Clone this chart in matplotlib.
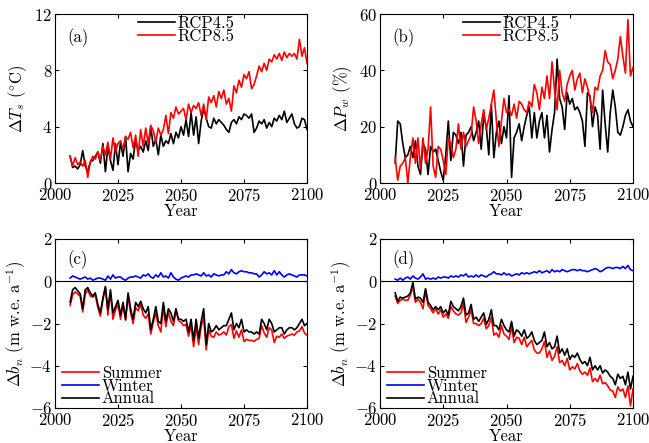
import matplotlib
matplotlib.use("Agg")
import matplotlib.pyplot as plt
import numpy as np

plt.rcParams['font.family'] = 'serif'
plt.rcParams['font.serif'] = ['cmr10', 'DejaVu Serif']
plt.rcParams['mathtext.fontset'] = 'cm'
plt.rcParams['axes.formatter.use_mathtext'] = True
plt.rcParams['font.size'] = 12

years = np.arange(2006, 2101)

# (a) air temperature change, degC
ts_rcp45 = [1.9, 1.1, 1.2, 1.0, 1.3, 2.3, 1.2, 0.8, 1.5, 1.6,
            1.9, 2.2, 1.4, 2.8, 0.8, 2.6, 1.6, 0.9, 2.8, 1.3,
            2.9, 1.9, 3.3, 0.8, 2.1, 1.7, 3.1, 2.3, 2.6, 2.2,
            3.0, 2.3, 4.0, 2.6, 3.1, 2.0, 3.4, 2.6, 3.0, 2.8,
            3.5, 2.8, 3.6, 3.2, 4.0, 3.4, 4.5, 3.3, 5.0, 3.4,
            4.7, 2.8, 4.4, 5.3, 4.6, 4.0, 3.9, 4.6, 4.2, 4.5,
            4.3, 4.1, 3.8, 3.6, 4.3, 4.5, 4.2, 4.7, 4.5, 4.9,
            4.8, 4.6, 4.9, 3.6, 3.9, 4.4, 4.2, 4.5, 3.9, 4.3,
            4.0, 4.6, 4.4, 4.8, 4.5, 5.1, 4.3, 4.6, 4.9, 4.2,
            3.9, 4.0, 4.6, 4.5, 3.8]
ts_rcp85 = [1.9, 1.2, 1.8, 1.3, 1.5, 1.2, 1.6, 0.4, 1.5, 1.9,
            1.7, 2.2, 1.6, 2.6, 2.0, 2.9, 1.7, 3.2, 2.2, 2.8,
            3.0, 2.4, 3.3, 3.1, 3.6, 2.5, 3.4, 1.9, 3.8, 2.6,
            3.9, 2.8, 4.1, 3.7, 2.9, 3.9, 3.4, 3.8, 4.8, 3.5,
            5.0, 4.6, 5.4, 4.9, 5.1, 5.3, 4.5, 5.6, 5.0, 5.5,
            5.3, 5.7, 4.8, 5.6, 4.5, 6.1, 5.7, 6.2, 5.4, 6.5,
            6.0, 6.6, 5.6, 6.0, 5.1, 6.9, 6.4, 7.3, 6.8, 7.7,
            7.4, 7.9, 6.7, 7.0, 7.6, 8.3, 7.9, 8.5, 8.0, 8.8,
            8.6, 9.1, 8.8, 9.2, 8.7, 9.3, 8.9, 9.2, 9.0, 9.2,
            8.8, 10.2, 9.0, 9.6, 8.5]

# (b) precipitation change, %
pw_rcp45 = [7, 22, 21, 14, 9, 10, 13, 9, 15, 6,
            3, 14, 12, 3, 13, 11, 12, 8, 4, 1,
            10, 22, 8, 18, 17, 14, 18, 6, 17, 18,
            20, 15, 18, 22, 12, 24, 20, 10, 28, 9,
            18, 22, 14, 20, 16, 31, 2, 16, 18, 21,
            15, 20, 24, 27, 16, 25, 16, 22, 25, 16,
            24, 11, 19, 25, 44, 30, 27, 19, 32, 28,
            30, 26, 27, 25, 22, 13, 32, 31, 20, 27,
            24, 12, 33, 21, 11, 25, 33, 27, 18, 17,
            20, 24, 26, 22, 20]
pw_rcp85 = [9, 1, 6, 7, 9, 0, 9, 16, 7, 16,
            5, 16, 7, 12, 27, 6, 2, 13, 12, 8,
            3, 16, 14, 9, 12, 21, 12, 18, 13, 15,
            17, 27, 22, 14, 21, 26, 19, 23, 28, 33,
            22, 13, 22, 30, 25, 26, 24, 28, 23, 29,
            28, 26, 25, 29, 27, 35, 32, 26, 34, 30,
            38, 30, 43, 33, 26, 40, 32, 29, 35, 38,
            40, 33, 37, 39, 32, 37, 34, 30, 25, 34,
            33, 38, 40, 47, 43, 42, 37, 40, 44, 52,
            45, 39, 58, 38, 41]

# (c) mass balance RCP4.5, m w.e. a-1
bn_summer_45 = [-1.15, -0.65, -0.5, -0.6, -0.7, -1.45, -0.6, -0.4, -0.7, -0.75,
                -0.65, -1.25, -1.65, -0.9, -0.3, -1.6, -0.5, -1.8, -1.35, -1.1,
                -1.8, -1.1, -1.85, -0.7, -1.5, -2.0, -1.25, -1.4, -1.1, -1.6,
                -1.75, -1.55, -2.5, -1.95, -1.5, -2.1, -2.4, -1.2, -2.15, -1.45,
                -1.9, -2.1, -1.4, -1.85, -1.95, -2.1, -2.05, -2.6, -2.1, -3.1,
                -2.15, -3.0, -2.15, -1.7, -3.25, -2.3, -2.6, -2.65, -2.4, -2.55,
                -2.5, -2.4, -2.55, -2.15, -2.05, -2.7, -2.35, -2.65, -2.3, -2.85,
                -2.75, -2.8, -2.8, -2.85, -2.75, -2.7, -2.1, -2.45, -2.65, -2.2,
                -2.3, -2.9, -2.6, -2.65, -2.5, -2.7, -2.6, -2.55, -2.5, -2.55,
                -2.4, -2.35, -2.15, -2.45, -2.55]
bn_winter_45 = [0.15, 0.25, 0.2, 0.15, 0.1, 0.15, 0.2, 0.1, 0.15, 0.05,
                0.1, 0.15, 0.15, 0.1, 0.05, 0.25, 0.1, 0.3, 0.15, 0.2,
                0.2, 0.1, 0.05, 0.15, 0.2, 0.2, 0.25, 0.2, 0.15, 0.3,
                0.25, 0.35, 0.2, 0.15, 0.3, 0.2, 0.4, 0.2, 0.25, 0.15,
                0.4, 0.2, 0.1, 0.05, 0.15, 0.2, 0.25, 0.2, 0.3, 0.3,
                0.35, 0.3, 0.25, 0.4, 0.25, 0.3, 0.2, 0.35, 0.3, 0.25,
                0.3, 0.3, 0.45, 0.35, 0.55, 0.4, 0.35, 0.45, 0.5, 0.45,
                0.45, 0.4, 0.4, 0.35, 0.35, 0.2, 0.3, 0.45, 0.35, 0.4,
                0.3, 0.5, 0.3, 0.45, 0.3, 0.2, 0.3, 0.35, 0.3, 0.25,
                0.2, 0.3, 0.3, 0.3, 0.25]
bn_annual_45 = [-1.0, -0.4, -0.3, -0.45, -0.6, -1.3, -0.4, -0.3, -0.55, -0.7,
                -0.55, -1.1, -1.5, -0.8, -0.25, -1.35, -0.4, -1.5, -1.2, -0.9,
                -1.6, -1.0, -1.8, -0.55, -1.3, -1.8, -1.0, -1.2, -0.95, -1.3,
                -1.5, -1.2, -2.3, -1.8, -1.2, -1.9, -2.0, -1.0, -1.9, -1.3,
                -1.5, -1.9, -1.3, -1.8, -1.8, -1.9, -1.8, -2.4, -1.8, -2.8,
                -1.8, -2.7, -1.9, -1.3, -3.0, -2.0, -2.4, -2.3, -2.1, -2.3,
                -2.2, -2.1, -2.1, -1.8, -1.5, -2.3, -2.0, -2.2, -1.8, -2.4,
                -2.3, -2.4, -2.4, -2.5, -2.4, -2.5, -1.8, -2.0, -2.3, -1.8,
                -2.0, -2.4, -2.3, -2.2, -2.2, -2.5, -2.3, -2.2, -2.2, -2.3,
                -2.2, -2.0, -1.8, -2.1, -2.0]

# (d) mass balance RCP8.5, m w.e. a-1
bn_summer_85 = [-0.7, -1.05, -0.9, -0.85, -0.9, -0.9, -0.65, -0.25, -1.0, -0.85,
                -1.0, -1.3, -0.45, -1.15, -1.3, -1.5, -1.3, -1.55, -1.35, -1.7,
                -1.55, -1.75, -1.2, -1.4, -1.55, -1.6, -1.5, -1.05, -1.95, -1.7,
                -1.35, -2.0, -2.0, -2.1, -2.0, -1.75, -2.25, -2.1, -1.7, -2.55,
                -2.45, -2.65, -2.1, -2.5, -2.6, -2.75, -2.15, -2.9, -2.65, -2.7,
                -3.0, -2.65, -3.1, -2.95, -2.8, -3.25, -3.4, -3.4, -3.2, -2.85,
                -3.6, -3.3, -3.75, -3.55, -3.1, -3.85, -3.75, -4.0, -3.65, -4.2,
                -4.05, -4.15, -3.9, -4.25, -4.4, -4.3, -4.45, -4.1, -4.75, -4.6,
                -4.75, -4.45, -4.85, -4.8, -4.95, -5.15, -5.2, -5.5, -5.0, -5.2,
                -5.1, -5.5, -4.95, -5.9, -5.1]
bn_winter_85 = [0.1, 0.05, 0.15, 0.05, 0.15, 0.2, 0.1, 0.25, 0.15, 0.1,
                0.2, 0.35, 0.1, 0.15, 0.1, 0.15, 0.1, 0.2, 0.15, 0.2,
                0.2, 0.15, 0.25, 0.2, 0.25, 0.2, 0.3, 0.25, 0.35, 0.2,
                0.25, 0.2, 0.3, 0.2, 0.3, 0.25, 0.2, 0.3, 0.35, 0.45,
                0.35, 0.35, 0.3, 0.4, 0.3, 0.35, 0.25, 0.3, 0.35, 0.3,
                0.4, 0.35, 0.4, 0.35, 0.4, 0.45, 0.4, 0.5, 0.4, 0.45,
                0.5, 0.4, 0.55, 0.45, 0.5, 0.45, 0.55, 0.5, 0.45, 0.5,
                0.55, 0.55, 0.5, 0.55, 0.5, 0.5, 0.45, 0.5, 0.55, 0.6,
                0.55, 0.45, 0.5, 0.6, 0.65, 0.65, 0.6, 0.65, 0.65, 0.6,
                0.7, 0.6, 0.75, 0.55, 0.5]
bn_annual_85 = [-0.55, -0.95, -0.75, -0.8, -0.75, -0.7, -0.55, -0.05, -0.85, -0.75,
                -0.8, -1.0, -0.35, -1.0, -1.15, -1.35, -1.2, -1.35, -1.2, -1.5,
                -1.35, -1.6, -0.95, -1.2, -1.3, -1.4, -1.2, -0.8, -1.6, -1.5,
                -1.1, -1.8, -1.7, -1.9, -1.7, -1.5, -2.05, -1.8, -1.35, -2.1,
                -2.1, -2.3, -1.8, -2.1, -2.3, -2.4, -1.9, -2.6, -2.3, -2.4,
                -2.6, -2.3, -2.7, -2.6, -2.4, -2.8, -3.0, -2.9, -2.8, -2.4,
                -3.1, -2.9, -3.2, -3.1, -2.6, -3.4, -3.2, -3.5, -3.2, -3.7,
                -3.5, -3.6, -3.4, -3.7, -3.9, -3.8, -4.0, -3.6, -4.2, -4.0,
                -4.2, -4.0, -4.35, -4.2, -4.3, -4.5, -4.6, -4.9, -4.4, -4.6,
                -4.5, -4.9, -4.3, -5.1, -4.5]

xticks = [2000, 2025, 2050, 2075, 2100]

fig = plt.figure(figsize=(6.49, 4.43), dpi=100)
W, H = 649.0, 443.0


def make_ax(x0, y0, x1, y1):
    ax = fig.add_axes([x0 / W, 1 - y1 / H, (x1 - x0) / W, (y1 - y0) / H])
    ax.set_xlim(2000, 2100)
    ax.set_xticks(xticks)
    ax.tick_params(direction='in', top=True, right=True, length=3, pad=2)
    ax.tick_params(axis='x', pad=3)
    ax.set_xlabel('Year', labelpad=0)
    return ax


legend_kw = dict(frameon=False, handlelength=2.2, handletextpad=0.15,
                 labelspacing=-0.15, borderaxespad=0.2)

# (a)
ax = make_ax(55, 14, 307, 183)
ax.plot(years, ts_rcp45, color='k', lw=1.2, label='RCP4.5')
ax.plot(years, ts_rcp85, color='r', lw=1.2, label='RCP8.5')
ax.set_ylim(0, 12)
ax.set_yticks([0, 4, 8, 12])
ax.set_ylabel(r'$\Delta T_s$ ($^{\circ}$C)')
ax.text(0.05, 0.86, '(a)', transform=ax.transAxes, va='center')
ax.legend(loc='upper left', bbox_to_anchor=(0.29, 1.05), **legend_kw)

# (b)
ax = make_ax(380, 14, 633, 183)
ax.plot(years, pw_rcp45, color='k', lw=1.2, label='RCP4.5')
ax.plot(years, pw_rcp85, color='r', lw=1.2, label='RCP8.5')
ax.set_ylim(0, 60)
ax.set_yticks([0, 20, 40, 60])
ax.set_ylabel(r'$\Delta P_w$ (%)')
ax.text(0.05, 0.86, '(b)', transform=ax.transAxes, va='center')
ax.legend(loc='upper left', bbox_to_anchor=(0.29, 1.05), **legend_kw)

# (c) and (d)
for x0, x1, summer, winter, annual, tag in [
        (55, 307, bn_summer_45, bn_winter_45, bn_annual_45, '(c)'),
        (380, 633, bn_summer_85, bn_winter_85, bn_annual_85, '(d)')]:
    ax = make_ax(x0, 239, x1, 408)
    ax.axhline(0, color='k', lw=0.8)
    ax.plot(years, summer, color='r', lw=1.2, label='Summer')
    ax.plot(years, winter, color='b', lw=1.2, label='Winter')
    ax.plot(years, annual, color='k', lw=1.2, label='Annual')
    ax.set_ylim(-6, 2)
    ax.set_yticks([-6, -4, -2, 0, 2])
    ax.set_ylabel(r'$\Delta b_n$ (m w.e. a$^{-1}$)', labelpad=1)
    ax.text(0.05, 0.875, tag, transform=ax.transAxes, va='center')
    ax.legend(loc='lower left', bbox_to_anchor=(-0.01, -0.05), **legend_kw)

fig.savefig('out.png', dpi=100)
